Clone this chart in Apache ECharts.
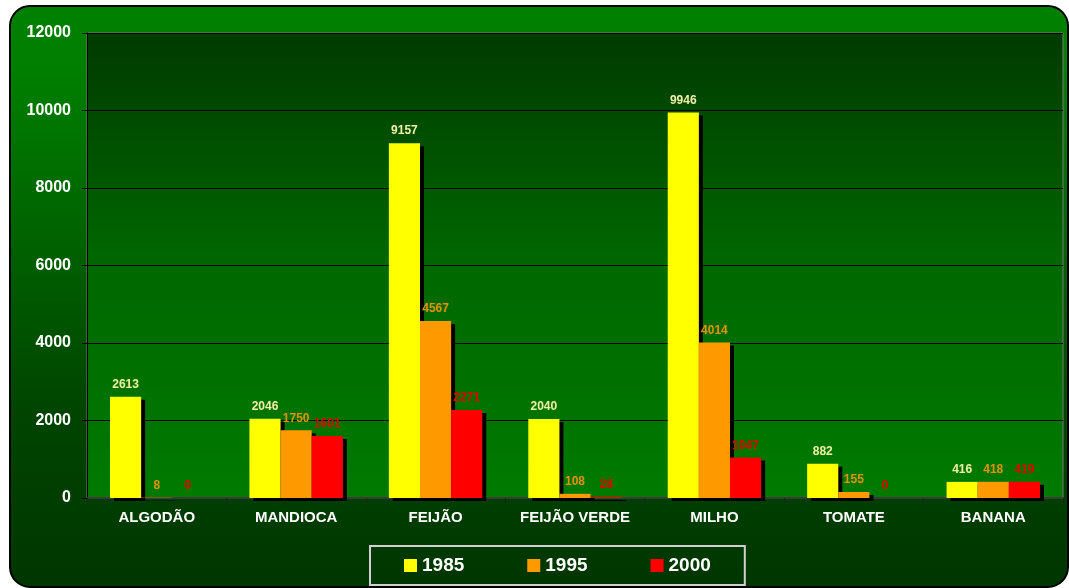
<!DOCTYPE html>
<html>
<head>
<meta charset="utf-8">
<script src="https://cdn.jsdelivr.net/npm/echarts@6/dist/echarts.min.js"></script>
<style>
html,body{margin:0;padding:0;background:#fff;}
#main{width:1069px;height:588px;}
</style>
</head>
<body>
<div id="main"></div>
<script>
// produção por cultura, 1985 / 1995 / 2000
var culturas = ['ALGODÃO', 'MANDIOCA', 'FEIJÃO', 'FEIJÃO VERDE', 'MILHO', 'TOMATE', 'BANANA'];
var anos = ['1985', '1995', '2000'];
var v1985 = [2613, 2046, 9157, 2040, 9946, 882, 416];
var v1995 = [8, 1750, 4567, 108, 4014, 155, 418];
var v2000 = [0, 1601, 2271, 28, 1047, 0, 419];

var coresBarra = ['#ffff00', '#ff9900', '#ff0000'];
var coresRotulo = ['#f0f0a8', '#e8900a', '#e80000'];

var chart = echarts.init(document.getElementById('main'));

function serie(i, dados){
	return {
		name: anos[i],
		type: 'bar',
		data: dados,
		barGap: 0,
		barCategoryGap: '33%',
		itemStyle: {
			color: coresBarra[i],
			shadowColor: '#000',
			shadowBlur: 0,
			shadowOffsetX: 4,
			shadowOffsetY: 3
		},
		label: {
			show: true,
			position: 'top',
			distance: 6,
			color: coresRotulo[i],
			fontSize: 12,
			fontWeight: 'bold',
			fontFamily: 'Liberation Sans, Arial'
		}
	};
}

chart.setOption({
	animation: false,
	graphic: [{
		type: 'rect',
		z: -10,
		silent: true,
		shape: {x: 10, y: 6, width: 1058, height: 581, r: 20},
		style: {
			fill: new echarts.graphic.LinearGradient(0, 0, 0, 1, [
				{offset: 0, color: '#008000'},
				{offset: 0.12, color: '#007e00'},
				{offset: 0.7, color: '#004400'},
				{offset: 1, color: '#003600'}
			]),
			stroke: '#000',
			lineWidth: 2
		}
	}],
	grid: {
		left: 87,
		top: 33,
		right: 6,
		bottom: 90,
		show: true,
		borderColor: '#7a7a7a',
		borderWidth: 1,
		backgroundColor: {
			type: 'linear', x: 0, y: 0, x2: 0, y2: 1,
			colorStops: [
				{offset: 0, color: '#003a00'},
				{offset: 0.5, color: '#006800'},
				{offset: 1, color: '#007a00'}
			]
		}
	},
	legend: {
		data: anos,
		left: 370,
		top: 546,
		padding: [10, 34, 10, 34],
		itemGap: 63,
		itemWidth: 13,
		itemHeight: 13,
		icon: 'rect',
		borderColor: '#d0d0d0',
		borderWidth: 2,
		textStyle: {
			color: '#fff',
			fontSize: 19,
			fontWeight: 'bold',
			fontFamily: 'Liberation Sans, Arial'
		}
	},
	xAxis: {
		type: 'category',
		data: culturas,
		axisLine: {lineStyle: {color: '#3a3a3a', width: 2}},
		axisTick: {show: true, length: 5, lineStyle: {color: '#222'}},
		axisLabel: {
			color: '#fff',
			fontSize: 15,
			fontWeight: 'bold',
			fontFamily: 'Liberation Sans, Arial',
			margin: 12,
			interval: 0
		}
	},
	yAxis: {
		type: 'value',
		min: 0,
		max: 12000,
		interval: 2000,
		axisLine: {show: true, lineStyle: {color: '#000'}},
		axisTick: {show: true, length: 5, lineStyle: {color: '#000'}},
		splitLine: {lineStyle: {color: '#000', width: 1}},
		axisLabel: {
			color: '#fff',
			fontSize: 16,
			fontWeight: 'bold',
			fontFamily: 'Liberation Sans, Arial',
			margin: 16,
			formatter: function(v){ return String(v); }
		}
	},
	series: [
		serie(0, v1985),
		serie(1, v1995),
		serie(2, v2000)
	]
});
</script>
</body>
</html>
